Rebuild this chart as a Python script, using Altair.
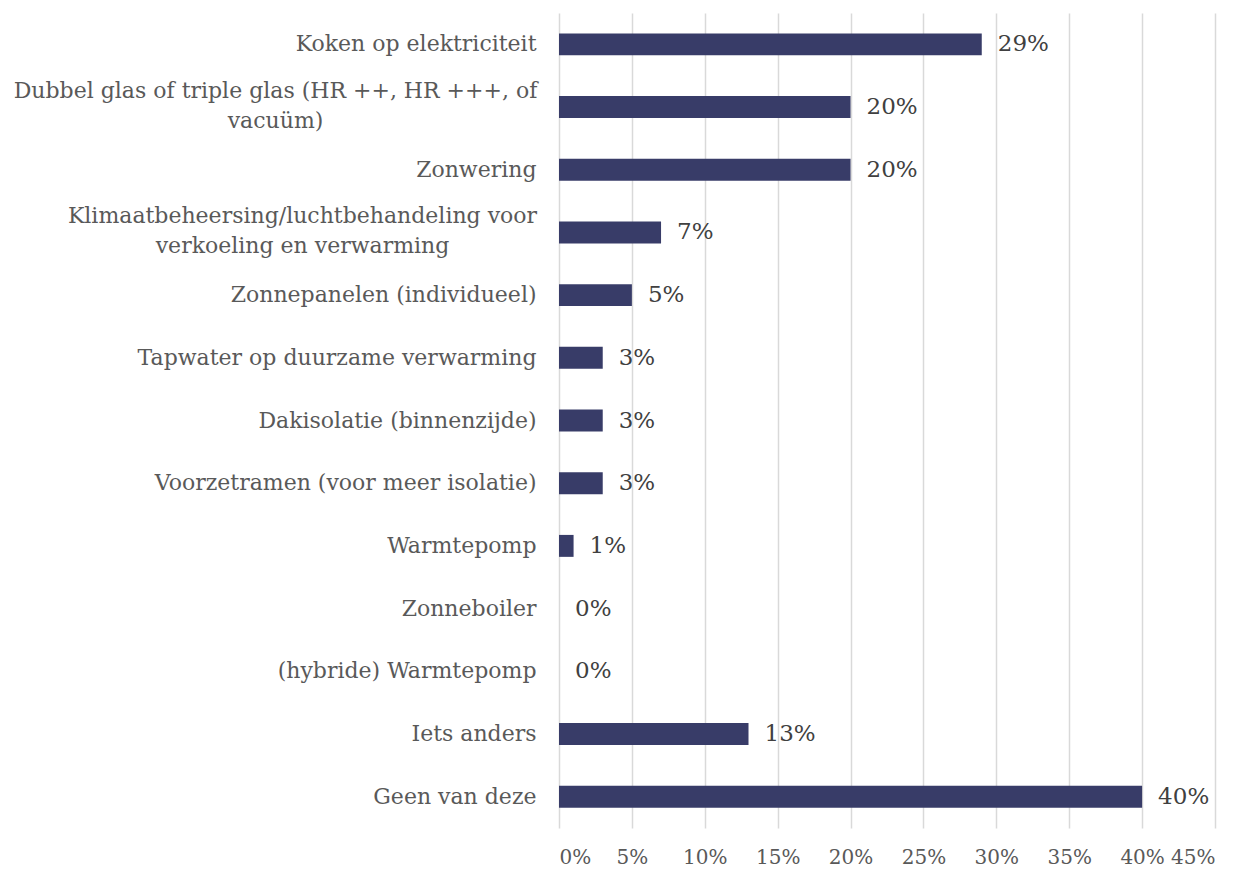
import altair as alt
import pandas as pd

categories = [
    "Koken op elektriciteit",
    "Dubbel glas of triple glas (HR ++, HR +++, of|vacuüm)",
    "Zonwering",
    "Klimaatbeheersing/luchtbehandeling voor|verkoeling en verwarming",
    "Zonnepanelen (individueel)",
    "Tapwater op duurzame verwarming",
    "Dakisolatie (binnenzijde)",
    "Voorzetramen (voor meer isolatie)",
    "Warmtepomp",
    "Zonneboiler",
    "(hybride) Warmtepomp",
    "Iets anders",
    "Geen van deze",
]
values = [0.29, 0.20, 0.20, 0.07, 0.05, 0.03, 0.03, 0.03, 0.01, 0.00, 0.00, 0.13, 0.40]
x_ticks = [0, 0.05, 0.10, 0.15, 0.20, 0.25, 0.30, 0.35, 0.40, 0.45]

df = pd.DataFrame({"cat": categories, "val": values})

FONT = "DejaVu Serif"

is_dubbel = "indexof(datum.value, 'Dubbel') >= 0"
is_klimaat = "indexof(datum.value, 'Klimaat') >= 0"
is_multi = "indexof(datum.value, '|') >= 0"

y_enc = alt.Y(
    "cat:N",
    sort=categories,
    title=None,
    scale=alt.Scale(paddingInner=0.65, paddingOuter=0.325),
    axis=alt.Axis(
        labelExpr="split(datum.label, '|')",
        labelFont=FONT,
        labelFontSize=22,
        labelColor="#595959",
        labelLineHeight=30,
        labelAlign={"condition": {"test": is_multi, "value": "center"}, "value": "right"},
        labelPadding={
            "condition": [
                {"test": is_dubbel, "value": 284},
                {"test": is_klimaat, "value": 257},
            ],
            "value": 23,
        },
        labelOffset={"condition": {"test": is_multi, "value": -16}, "value": 0},
        labelLimit=600,
        ticks=False,
        domain=False,
        grid=False,
        minExtent=544,
        maxExtent=544,
    ),
)
x_enc = alt.X(
    "val:Q",
    title=None,
    scale=alt.Scale(domain=[0, 0.45], nice=False),
    axis=alt.Axis(
        values=x_ticks,
        format=".0%",
        labelFont=FONT,
        labelFontSize=20,
        labelColor="#595959",
        labelPadding=19,
        labelOverlap=False,
        labelBound=False,
        ticks=False,
        domain=False,
        grid=True,
        gridColor="#d9d9d9",
        gridWidth=1.5,
    ),
)

bars = alt.Chart(df).mark_bar(color="#383c68").encode(x=x_enc, y=y_enc)
labels = alt.Chart(df).mark_text(
    align="left", baseline="middle", dx=16, font=FONT, fontSize=23, color="#404040"
).encode(
    x=alt.X("val:Q"),
    y=alt.Y("cat:N", sort=categories),
    text=alt.Text("val:Q", format=".0%"),
)

chart = (
    alt.layer(bars, labels)
    .properties(width=656, height=815, padding=5, background="white")
    .configure_view(stroke=None)
)

chart.save("out.html", embed_options={"renderer": "svg", "actions": False})
